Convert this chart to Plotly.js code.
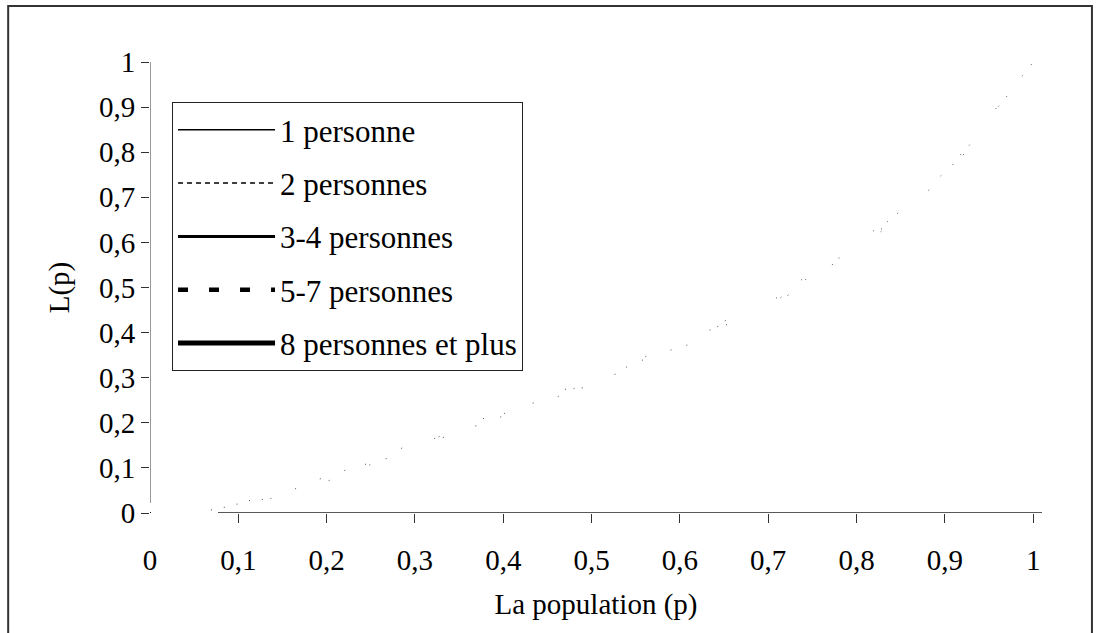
<!DOCTYPE html>
<html>
<head>
<meta charset="utf-8">
<script src="https://cdn.plot.ly/plotly-3.0.1.min.js"></script>
<style>html,body{margin:0;padding:0;background:#fff;}#chart{width:1099px;height:633px;}</style>
</head>
<body>
<div id="chart"></div>
<script>
// Share of the population (p) and cumulative share L(p) per household size
const p = [0, 0.1, 0.2, 0.3, 0.4, 0.5, 0.6, 0.7, 0.8, 0.9, 1];
const seriesNames = ["1 personne", "2 personnes", "3-4 personnes", "5-7 personnes", "8 personnes et plus"];
const L_1 = [0, 0.010, 0.070, 0.145, 0.215, 0.285, 0.370, 0.460, 0.585, 0.745, 1];
const L_2 = [0, 0.015, 0.075, 0.150, 0.220, 0.290, 0.375, 0.465, 0.590, 0.750, 1];
const L_34 = [0, 0.020, 0.080, 0.155, 0.225, 0.295, 0.380, 0.470, 0.595, 0.755, 1];
const L_57 = [0, 0.020, 0.080, 0.150, 0.220, 0.290, 0.375, 0.465, 0.590, 0.750, 1];
const L_8p = [0, 0.015, 0.070, 0.145, 0.215, 0.285, 0.365, 0.455, 0.580, 0.740, 1];
const xTicks = [0.1, 0.2, 0.3, 0.4, 0.5, 0.6, 0.7, 0.8, 0.9, 1];

const seriesValues = [L_1, L_2, L_34, L_57, L_8p];
const legendStyles = [
  {width: 1.5, dash: "solid"},
  {width: 1.5, dash: "5px,4px"},
  {width: 3, dash: "solid"},
  {width: 4.5, dash: "10px,21px"},
  {width: 5, dash: "solid"}
];
const FONT = "'Liberation Serif', 'Times New Roman', Times, serif";

const traces = [];
// the curves themselves are rendered almost invisibly in the reference (sparse specks)
seriesValues.forEach((vals, i) => {
  traces.push({
    x: p, y: vals, type: "scatter", mode: "lines",
    line: {color: "#000", width: 0.7, dash: "1px," + (60 + 13 * i) + "px"},
    showlegend: false, hoverinfo: "skip"
  });
});
// legend entries
seriesNames.forEach((name, i) => {
  traces.push({
    x: [null], y: [null], type: "scatter", mode: "lines", name: name,
    xaxis: "x2",
    legendgroup: "g" + i,
    line: {color: "#000", width: legendStyles[i].width, dash: legendStyles[i].dash}
  });
});

const layout = {
  width: 1099, height: 633,
  margin: {l: 150, r: 57, t: 62, b: 120},
  paper_bgcolor: "#fff", plot_bgcolor: "#fff",
  separators: ", ",
  font: {family: FONT, size: 29, color: "#000"},
  showlegend: true,
  xaxis: {
    range: [0, 1.01], tickmode: "array", tickvals: xTicks,
    ticks: "outside", ticklen: 9, tickwidth: 1, tickcolor: "#333",
    ticklabelstandoff: 12,
    showgrid: false, zeroline: false, showline: false,
    tickfont: {family: FONT, size: 29},
    title: {text: "La population (p)", font: {family: FONT, size: 29}, standoff: 18}
  },
  xaxis2: {
    overlaying: "x", range: [0, 1.01], tickmode: "array", tickvals: [0], ticktext: ["0"],
    ticks: "outside", ticklen: 9, tickcolor: "rgba(0,0,0,0)", side: "bottom",
    ticklabelstandoff: 12,
    showgrid: false, zeroline: false, showline: false,
    tickfont: {family: FONT, size: 29}
  },
  yaxis: {
    range: [0, 1], tickmode: "linear", tick0: 0, dtick: 0.1,
    ticks: "outside", ticklen: 8, tickwidth: 1, tickcolor: "#333",
    showgrid: false, zeroline: false, showline: false,
    tickfont: {family: FONT, size: 29},
    title: {text: "L(p)", font: {family: FONT, size: 29}, standoff: 20}
  },
  legend: {
    x: 0.0247, y: 0.911, xanchor: "left", yanchor: "top",
    bgcolor: "#fff", bordercolor: "#222", borderwidth: 1,
    font: {family: FONT, size: 31, color: "#000"},
    itemwidth: 97, tracegroupgap: 10, traceorder: "grouped"
  },
  shapes: [
    // outer frame
    {type: "rect", xref: "paper", yref: "paper", x0: -0.159, x1: 1.056, y0: -0.3, y1: 1.124,
     line: {color: "#333", width: 2}, fillcolor: "rgba(0,0,0,0)", layer: "below"},
    // y axis line
    {type: "line", xref: "x", yref: "y", x0: 0, x1: 0, y0: 0.022, y1: 1,
     line: {color: "#777", width: 1.5}},
    // x axis line
    {type: "line", xref: "x", yref: "y", x0: 0.077, x1: 1.01, y0: 0, y1: 0,
     line: {color: "#222", width: 1.5}}
  ]
};

Plotly.newPlot("chart", traces, layout, {displayModeBar: false, staticPlot: true});
</script>
</body>
</html>
